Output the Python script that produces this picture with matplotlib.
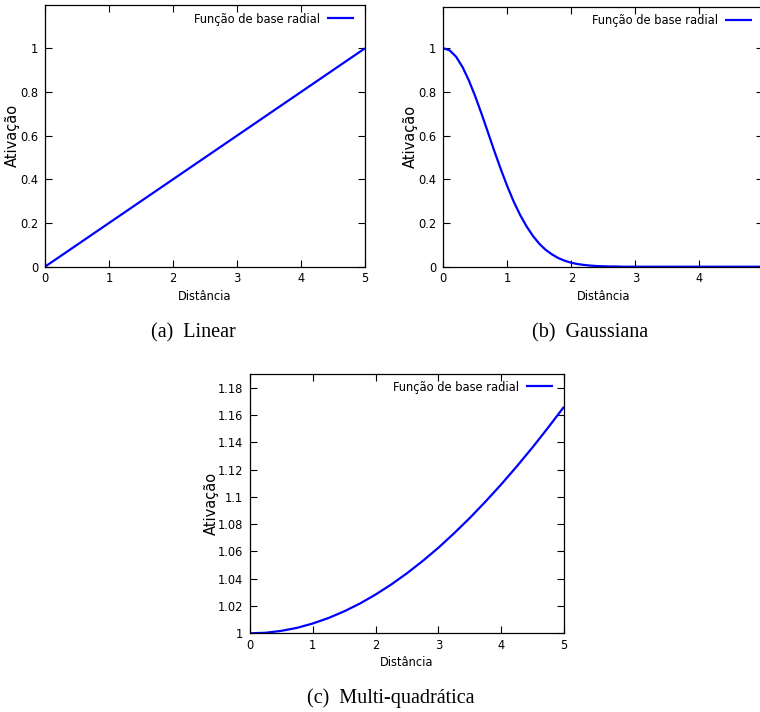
import matplotlib
matplotlib.use("Agg")
import matplotlib.pyplot as plt
from matplotlib import font_manager

# ---------------- data ----------------
legend_label = "Função de base radial"
x_label = "Distância"
y_label = "Ativação"
captions = ["(a)  Linear", "(b)  Gaussiana", "(c)  Multi-quadrática"]

linear_x = [0.0, 5.0]
linear_y = [0.0, 1.0]

gauss_x = [0.0, 0.1, 0.2, 0.3, 0.4, 0.5, 0.6, 0.7, 0.8, 0.9, 1.0, 1.1, 1.2, 1.3,
           1.4, 1.5, 1.6, 1.7, 1.8, 1.9, 2.0, 2.1, 2.2, 2.3, 2.4, 2.5, 2.6, 2.7,
           2.8, 3.0, 4.0, 5.0]
gauss_y = [1.000, 0.990, 0.961, 0.914, 0.852, 0.779, 0.698, 0.613, 0.527, 0.445,
           0.368, 0.298, 0.237, 0.185, 0.141, 0.105, 0.077, 0.056, 0.039, 0.027,
           0.018, 0.012, 0.008, 0.005, 0.003, 0.002, 0.001, 0.001, 0.000, 0.000,
           0.000, 0.000]

mq_x = [0.0, 0.25, 0.5, 0.75, 1.0, 1.25, 1.5, 1.75, 2.0, 2.25, 2.5, 2.75, 3.0,
        3.25, 3.5, 3.75, 4.0, 4.25, 4.5, 4.75, 5.0]
mq_y = [1.0000, 1.0004, 1.0018, 1.0040, 1.0072, 1.0112, 1.0161, 1.0218, 1.0284,
        1.0358, 1.0440, 1.0530, 1.0627, 1.0733, 1.0845, 1.0965, 1.1091, 1.1224,
        1.1363, 1.1509, 1.1660]

xticks = [0, 1, 2, 3, 4, 5]
xtick_labels = ["0", "1", "2", "3", "4", "5"]
xtick_labels_b = ["0", "1", "2", "3", "4", ""]   # "5" falls outside the image
yticks_ab = [0, 0.2, 0.4, 0.6, 0.8, 1.0]
ytick_labels_ab = ["0", "0.2", "0.4", "0.6", "0.8", "1"]
yticks_c = [1.0, 1.02, 1.04, 1.06, 1.08, 1.10, 1.12, 1.14, 1.16, 1.18]
ytick_labels_c = ["1", "1.02", "1.04", "1.06", "1.08", "1.1", "1.12", "1.14",
                  "1.16", "1.18"]

# ---------------- font choice: a narrow sans, if one is installed ----------------
def pick_narrow():
    fl = font_manager.fontManager.ttflist
    def regular(f):
        return f.style == "normal" and f.weight in (400, "normal", "regular")
    for f in fl:
        if f.name == "Liberation Sans Narrow" and regular(f):
            return f.fname, 11.0
    for f in fl:
        if regular(f) and (f.name == "DejaVu Sans Condensed" or
                           (f.name == "DejaVu Sans" and "condensed" in str(f.stretch).lower())
                           or "DejaVuSansCondensed.ttf" in f.fname):
            return f.fname, 9.2
    for f in fl:
        if f.name in ("Roboto Condensed", "Open Sans Condensed") and regular(f):
            return f.fname, 9.6
    return None, 8.4


NARROW_FILE, SMALL_FS = pick_narrow()


def fp(size):
    if NARROW_FILE:
        return font_manager.FontProperties(fname=NARROW_FILE, size=size)
    return font_manager.FontProperties(family="DejaVu Sans", size=size)


W, H = 760, 712
DPI = 100
YLABEL_FS = 10.5
CAP_FS = 14.5
BLUE = "#0000ff"

fig = plt.figure(figsize=(W / DPI, H / DPI), dpi=DPI)


def px_axes(left, top, right, bottom):
    return fig.add_axes([left / W, 1 - bottom / H, (right - left) / W,
                         (bottom - top) / H])


def style(ax, xs, ys, ylim, xlabels, yticks, ylabels, ylab_x, leg_dy):
    ax.plot(xs, ys, color=BLUE, lw=1.6, label=legend_label, solid_capstyle="butt")
    ax.set_xlim(0, 5)
    ax.set_ylim(*ylim)
    ax.set_xticks(xticks)
    ax.set_xticklabels(xlabels, fontproperties=fp(SMALL_FS))
    ax.set_yticks(yticks)
    ax.set_yticklabels(ylabels, fontproperties=fp(SMALL_FS))
    ax.tick_params(direction="in", length=5, width=0.8, top=True, right=True,
                   color="black")
    ax.tick_params(axis="x", pad=4)
    ax.tick_params(axis="y", pad=5)
    for s in ax.spines.values():
        s.set_linewidth(0.9)
        s.set_color("black")
    ax.set_xlabel(x_label, fontproperties=fp(SMALL_FS))
    ax.xaxis.set_label_coords(0.5, -0.088)
    ax.set_ylabel(y_label, family="DejaVu Sans", fontsize=YLABEL_FS,
                  va="center", ha="center")
    ax.yaxis.set_label_coords(ylab_x, 0.5)
    bw = ax.get_position().width * W
    bh = ax.get_position().height * H
    fs_px = SMALL_FS * DPI / 72
    ax.legend(loc="upper right", frameon=False, markerfirst=False,
              handlelength=27 / fs_px, handletextpad=7 / fs_px,
              borderpad=0, borderaxespad=0, prop=fp(SMALL_FS),
              bbox_to_anchor=(1 - 11 / bw, 1 - leg_dy / bh))


ax_a = px_axes(45, 4.6, 365, 266.7)
style(ax_a, linear_x, linear_y, (0, 1.2), xtick_labels, yticks_ab,
      ytick_labels_ab, -33 / 320, 8.3)

ax_b = px_axes(443.3, 6.7, 763.3, 266.7)
style(ax_b, gauss_x, gauss_y, (0, 1.19), xtick_labels_b, yticks_ab,
      ytick_labels_ab, -32.6 / 320, 7.3)

ax_c = px_axes(250, 374, 564, 633.3)
style(ax_c, mq_x, mq_y, (1.0, 1.19), xtick_labels, yticks_c,
      ytick_labels_c, -38.5 / 314, 6.7)

cap_pos = [(193, 333), (590.5, 333), (390.5, 698)]
for text, (cx, cy) in zip(captions, cap_pos):
    fig.text(cx / W, 1 - cy / H, text, ha="center", va="center",
             family=["Liberation Serif", "DejaVu Serif"], fontsize=CAP_FS)

fig.savefig("out.png", dpi=DPI)
